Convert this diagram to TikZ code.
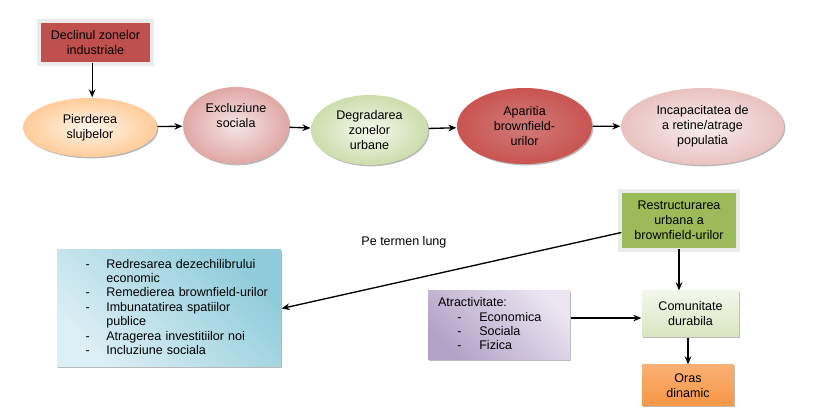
\documentclass[tikz,border=0pt]{standalone}
\usepackage{fontspec}
\setmainfont{Liberation Sans}
\usepackage{tikz}
\usetikzlibrary{arrows.meta,shapes.geometric,shadows}
\usepackage{xcolor}
\definecolor{redbox}{HTML}{C0504D}
\definecolor{greenbox}{HTML}{9BBB59}
\definecolor{orangebox}{HTML}{F79646}
\definecolor{bluedark}{HTML}{8FCBDB}
\definecolor{bluelight}{HTML}{DCEFF4}
\definecolor{purpdark}{HTML}{B3A2C7}
\definecolor{purplight}{HTML}{EAE5F0}

\begin{document}
\begin{tikzpicture}[>={Stealth[length=6pt,width=5pt]},line width=1pt,x=0.75pt,y=-0.75pt,
  font=\fontsize{9.4}{11.25}\selectfont]
  \tikzstyle{shade}=[drop shadow={shadow xshift=1pt,shadow yshift=-1pt,fill=black!55}]
  \tikzstyle{oval}=[ellipse,inner sep=0pt,align=center,shade]
  \tikzstyle{box}=[rectangle,inner sep=2pt,align=center,shade]
  \tikzstyle{glow}=[preaction={draw=black!8,line width=6pt}]
  \useasboundingbox (0,0) rectangle (836,413);
  % top row
  \node(decl) at (95.5,42.5) [box,glow,fill=redbox,minimum width=81.75pt,minimum height=29.25pt]{Declinul zonelor\\industriale};
  \node(pierd) at (90,127.5) [oval,inner color=orange!8,outer color=orange!40,minimum width=100.5pt,minimum height=44.25pt]{Pierderea\\slujbelor};
  \node(excl) at (236,125.5) [oval,inner color=redbox!15,outer color=redbox!50,minimum width=79.5pt,minimum height=57.75pt]{Excluziune\\sociala\\[4pt]};
  \node(degr) at (369.5,130) [oval,inner color=greenbox!10,outer color=greenbox!50,minimum width=87.75pt,minimum height=52.5pt]{Degradarea\\zonelor\\urbane};
  \node(apar) at (524.5,126) [oval,inner color=redbox!75,outer color=redbox!105!black,minimum width=101.25pt,minimum height=57pt]{Aparitia\\brownfield-\\urilor};
  \node(incap) at (702.5,126.5) [oval,inner color=redbox!10,outer color=redbox!35,minimum width=122.25pt,minimum height=57.75pt]{Incapacitatea de\\a retine/atrage\\populatia};
  \draw[->]([xshift=-2.5pt]decl.south)--([xshift=-2.5pt]decl.south |- pierd.north);
  \draw[->](pierd)--(excl);
  \draw[->](excl)--(degr);
  \draw[->](degr)--(apar);
  \draw[->](apar)--(incap);
  % bottom part
  \node(restr) at (679,220.5) [box,glow,fill=greenbox,minimum width=85.5pt,minimum height=41.25pt]{Restructurarea\\urbana a\\brownfield-urilor};
  \node(comun) at (690.5,314) [box,top color=greenbox!12,bottom color=greenbox!38,minimum width=72.75pt,minimum height=34.5pt]{Comunitate\\durabila};
  \node(oras) at (688,385.5) [box,top color=orangebox!75,bottom color=orangebox,minimum width=69pt,minimum height=30.75pt]{Oras\\dinamic};
  \node(atract) at (499,325.5) [box,top color=purplight,bottom color=purpdark,shading angle=-45,inner xsep=7.5pt,text width=91.5pt,minimum height=51.75pt,align=left]{%
    \fontsize{9.4}{10.8}\selectfont
    \begin{tabular}{@{\hspace{14.5pt}}p{16.5pt}@{}l@{}}
      \multicolumn{2}{@{}l}{Atractivitate:}\\
      - & Economica\\
      - & Sociala\\
      - & Fizica
    \end{tabular}};
  \node(blue) at (169,308.5) [box,top color=bluedark,bottom color=bluelight,shading angle=-45,inner xsep=2pt,text width=164pt,minimum height=87.75pt,align=left]{%
    \fontsize{9.4}{10.8}\selectfont
    \begin{tabular}{@{\hspace{19.5pt}}p{15.5pt}@{}l@{}}
      - & Redresarea dezechilibrului\\
        & economic\\
      - & Remedierea brownfield-urilor\\
      - & Imbunatatirea spatiilor\\
        & publice\\
      - & Atragerea investitiilor noi\\
      - & Incluziune sociala
    \end{tabular}\\[2pt]};
  \draw[->](restr)--(comun.north -| restr);
  \draw[->](oras.north |- comun.south)--(oras);
  \draw[->]([yshift=5.6pt]atract.east)--([yshift=5.6pt]atract.east -| comun.west);
  \draw[->]([yshift=-9pt]restr.west)--node[pos=0.64,above=21pt]{Pe termen lung}(blue.east);
\end{tikzpicture}
\end{document}
